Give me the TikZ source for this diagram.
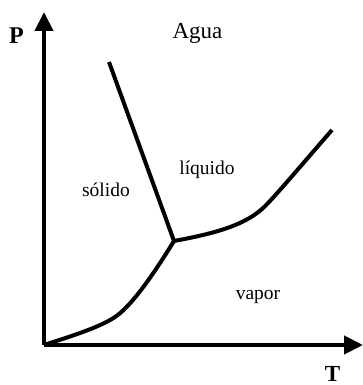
\documentclass[tikz,border=0pt]{standalone}
\usepackage{fontspec}
\setmainfont{Liberation Serif}
\usetikzlibrary{arrows.meta}
\begin{document}
\begin{tikzpicture}[x=1pt,y=1pt,
  axis/.style={line width=4.2pt,-{Triangle[length=19pt,width=18pt]}},
  curve/.style={line width=4pt,line join=round},
  lbl/.style={font=\fontsize{19.5}{20}\selectfont,anchor=base,inner sep=0pt},
  axlbl/.style={font=\bfseries\fontsize{23}{24}\selectfont,anchor=base,inner sep=0pt}]
\useasboundingbox (0,0) rectangle (363,385);
\coordinate (O) at (44,40);
\coordinate (Ptop) at (44,373);
\coordinate (Tend) at (363,40);
\coordinate (tp) at (174,144);
\coordinate (fus) at (109,323);
\coordinate (lv) at (332,255);
\draw[axis] (O) -- (Ptop);
\draw[axis] (O) -- (Tend);
\draw[curve] (fus) -- (tp);
\draw[curve] (O) .. controls (75,50) and (100,58) .. (115,68)
  .. controls (130,78) and (150,105) .. (tp);
\draw[curve] (tp) .. controls (212,151) and (243,159) .. (262,176)
  .. controls (272,185) and (292,209) .. (lv);
\node[axlbl,font=\bfseries\fontsize{24}{25}\selectfont] (P) at (16.5,341) {P};
\node[axlbl] (T) at (332.5,4) {T};
\node[lbl,font=\fontsize{23}{24}\selectfont] (agua) at (197.5,346) {Agua};
\node[lbl] (solido) at (106,188) {sólido};
\node[lbl] (liquido) at (207,210) {líquido};
\node[lbl] (vapor) at (258,85) {vapor};
\end{tikzpicture}
\end{document}
